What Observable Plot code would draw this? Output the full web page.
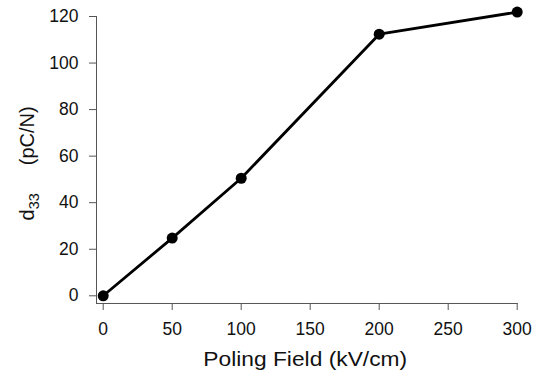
<!DOCTYPE html>
<html><head><meta charset="utf-8">
<script src="https://cdn.jsdelivr.net/npm/d3@7"></script>
<script src="https://cdn.jsdelivr.net/npm/@observablehq/plot@0.6"></script>
<style>body{margin:0;background:#fff} svg{display:block}</style>
</head><body><div id="chart"></div>
<script>
const fieldKV = [0, 50, 100, 200, 300];
const d33 = [0, 24.8, 50.5, 112.4, 121.9];
const xTicks = [0, 50, 100, 150, 200, 250, 300];
const yTicks = [0, 20, 40, 60, 80, 100, 120];
const xTitle = "Poling Field (kV/cm)";
const yTitle = "d33 (pC/N)";

const data = fieldKV.map((x, i) => ({x, y: d33[i]}));
const font = "'Liberation Sans', Arial, Helvetica, sans-serif";
const axisGray = "#555";

const chart = Plot.plot({
  width: 538, height: 375,
  marginLeft: 102.7, marginRight: 21.3, marginTop: 16, marginBottom: 79.7,
  style: {fontFamily: font, background: "#fff", color: "#111"},
  x: {domain: [0, 300]},
  y: {domain: [0, 120]},
  marks: [
    Plot.frame({anchor: "left", dx: -6.7, insetBottom: -7.7, stroke: axisGray}),
    Plot.frame({anchor: "bottom", dy: 7.7, insetLeft: -6.7, stroke: axisGray}),
    Plot.axisX({ticks: xTicks, tickSize: 7, dy: 7.7, tickPadding: 12, fontSize: 17.5, label: null, stroke: axisGray, fill: "#111"}),
    Plot.axisY({ticks: yTicks, tickSize: 7, dx: -6.7, tickPadding: 11, fontSize: 17.5, label: null, stroke: axisGray, fill: "#111"}),
    Plot.line(data, {x: "x", y: "y", stroke: "#000", strokeWidth: 2.8}),
    Plot.dot(data, {x: "x", y: "y", r: 5.5, fill: "#000", stroke: "none"}),
    Plot.text([xTitle], {frameAnchor: "bottom", dy: 55.7, dx: -5, lineAnchor: "top", fontSize: 20, fill: "#111"}),
    Plot.text([yTitle], {frameAnchor: "left", dx: -69.2, dy: 64.3, rotate: -90, textAnchor: "start", fontSize: 20, fill: "#111"})
  ]
});

d3.select(chart).selectAll("text").each(function () {
  const t = d3.select(this);
  if (this.textContent === xTitle) {
    t.attr("transform", (t.attr("transform") || "") + " scale(1.14,1)");
  } else if (this.textContent === yTitle) {
    t.text(null).attr("y", 0);
    t.append("tspan").text("d");
    t.append("tspan").attr("font-size", 14.5).attr("dy", 5).text("33");
    t.append("tspan").attr("dy", -5).attr("dx", 28).text("(pC/N)");
  }
});

document.getElementById("chart").appendChild(chart);
</script>
</body></html>
